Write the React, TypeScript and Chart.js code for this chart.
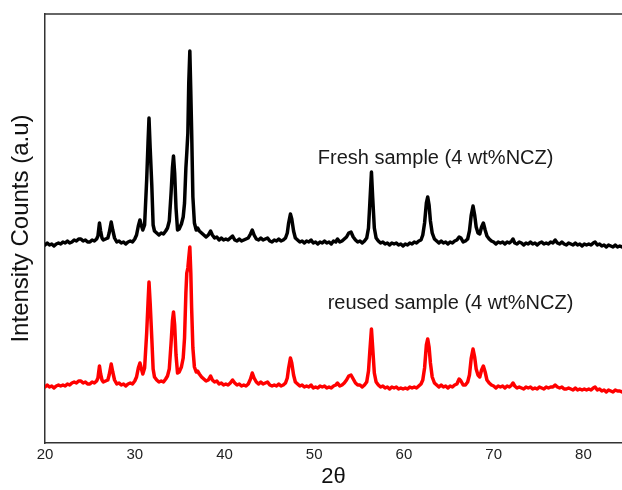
import React, { useEffect, useRef } from "react";
import { Chart, registerables } from "chart.js";

Chart.register(...registerables);

// ---- data: [2θ (deg), intensity (arbitrary counts)] ----
const xTickValues = [20, 30, 40, 50, 60, 70, 80];

const freshPattern: [number, number][] = [
  [20.0, 198], [20.25, 200], [20.5, 198], [20.75, 199], [21.0, 197], [21.25, 199], [21.5, 200], [21.75, 199],
  [22.0, 201], [22.25, 200], [22.5, 202], [22.75, 200], [23.0, 201], [23.25, 203], [23.5, 202], [23.75, 204],
  [24.0, 204], [24.25, 202], [24.5, 203], [24.75, 201], [25.0, 201], [25.25, 203], [25.5, 202], [25.75, 204],
  [25.9, 207], [26.07, 220], [26.2, 212], [26.35, 205], [26.5, 203], [26.75, 204], [27.0, 205], [27.15, 210],
  [27.38, 221], [27.55, 213], [27.75, 205], [28.0, 201], [28.25, 202], [28.5, 200], [28.75, 201], [29.0, 199],
  [29.25, 201], [29.5, 202], [29.75, 201], [30.0, 204], [30.2, 208], [30.4, 217], [30.58, 223], [30.72, 218],
  [30.9, 213], [31.1, 218], [31.33, 263], [31.48, 300], [31.59, 325], [31.72, 295], [31.9, 258], [32.05, 218],
  [32.2, 212], [32.45, 210], [32.7, 208], [32.95, 210], [33.2, 209], [33.45, 212], [33.65, 215], [33.85, 222],
  [34.05, 250], [34.2, 275], [34.32, 287], [34.45, 270], [34.6, 235], [34.77, 213], [34.95, 214], [35.2, 219],
  [35.4, 226], [35.55, 240], [35.7, 275], [35.8, 290], [35.92, 310], [36.02, 360], [36.14, 392], [36.25, 350],
  [36.34, 313], [36.48, 246], [36.65, 220], [36.85, 213], [37.0, 215], [37.2, 212], [37.45, 210], [37.7, 208],
  [37.95, 206], [38.2, 208], [38.45, 212], [38.65, 208], [38.9, 205], [39.15, 206], [39.4, 203], [39.65, 205],
  [39.9, 203], [40.15, 204], [40.4, 203], [40.65, 205], [40.9, 207], [41.15, 203], [41.4, 202], [41.65, 204],
  [41.9, 202], [42.15, 203], [42.4, 204], [42.65, 205], [42.9, 209], [43.1, 213], [43.3, 208], [43.55, 204],
  [43.8, 203], [44.05, 205], [44.3, 203], [44.55, 204], [44.8, 205], [45.05, 202], [45.3, 201], [45.55, 203],
  [45.8, 202], [46.05, 204], [46.3, 202], [46.55, 203], [46.8, 205], [47.0, 210], [47.15, 220], [47.35, 229],
  [47.5, 224], [47.7, 212], [47.9, 205], [48.15, 203], [48.4, 201], [48.65, 202], [48.9, 200], [49.15, 202],
  [49.4, 201], [49.65, 203], [49.9, 200], [50.15, 201], [50.4, 199], [50.65, 201], [50.9, 200], [51.15, 202],
  [51.4, 200], [51.65, 201], [51.9, 199], [52.15, 202], [52.4, 201], [52.6, 204], [52.85, 201], [53.1, 202],
  [53.35, 204], [53.6, 206], [53.85, 210], [54.1, 211], [54.35, 206], [54.6, 203], [54.85, 201], [55.1, 202],
  [55.35, 200], [55.6, 202], [55.85, 205], [56.05, 215], [56.2, 240], [56.38, 271], [56.52, 245], [56.7, 215],
  [56.9, 205], [57.15, 202], [57.4, 200], [57.65, 201], [57.9, 199], [58.15, 200], [58.4, 198], [58.65, 200],
  [58.9, 199], [59.15, 200], [59.4, 198], [59.65, 199], [59.9, 197], [60.15, 199], [60.4, 198], [60.65, 200],
  [60.9, 199], [61.15, 201], [61.4, 200], [61.65, 202], [61.9, 203], [62.1, 208], [62.3, 220], [62.5, 240],
  [62.65, 246], [62.8, 238], [62.95, 222], [63.15, 210], [63.4, 204], [63.65, 202], [63.9, 200], [64.15, 202],
  [64.4, 200], [64.65, 201], [64.9, 199], [65.15, 201], [65.4, 200], [65.65, 202], [65.9, 203], [66.15, 206],
  [66.35, 205], [66.6, 201], [66.85, 202], [67.1, 204], [67.3, 212], [67.5, 228], [67.7, 237], [67.88, 228],
  [68.05, 216], [68.25, 210], [68.45, 209], [68.65, 216], [68.85, 220], [69.05, 213], [69.25, 207], [69.5, 204],
  [69.75, 202], [70.0, 201], [70.25, 199], [70.5, 201], [70.75, 200], [71.0, 201], [71.25, 199], [71.5, 201],
  [71.75, 200], [72.0, 202], [72.15, 204], [72.35, 200], [72.6, 199], [72.85, 201], [73.1, 200], [73.35, 198],
  [73.6, 200], [73.85, 199], [74.1, 201], [74.35, 199], [74.6, 200], [74.85, 198], [75.1, 200], [75.35, 201],
  [75.6, 199], [75.85, 200], [76.1, 199], [76.35, 201], [76.6, 200], [76.85, 203], [77.1, 200], [77.35, 199],
  [77.6, 201], [77.85, 199], [78.1, 198], [78.35, 200], [78.6, 199], [78.85, 198], [79.1, 200], [79.35, 198],
  [79.6, 199], [79.85, 197], [80.1, 199], [80.35, 198], [80.6, 199], [80.85, 198], [81.1, 200], [81.3, 201],
  [81.55, 198], [81.8, 199], [82.05, 197], [82.3, 198], [82.55, 196], [82.8, 198], [83.05, 197], [83.3, 196],
  [83.55, 198], [83.8, 196], [84.05, 197], [84.3, 196],
];

const reusedPattern: [number, number][] = [
  [20.0, 56], [20.25, 58], [20.5, 56], [20.75, 57], [21.0, 55], [21.25, 57], [21.5, 58], [21.75, 57],
  [22.0, 58], [22.25, 57], [22.5, 59], [22.75, 58], [23.0, 60], [23.25, 61], [23.5, 60], [23.75, 62],
  [24.0, 62], [24.25, 60], [24.5, 61], [24.75, 59], [25.0, 59], [25.25, 61], [25.5, 60], [25.75, 62],
  [25.9, 65], [26.07, 77], [26.2, 69], [26.35, 63], [26.5, 61], [26.75, 62], [27.0, 63], [27.15, 68],
  [27.38, 79], [27.55, 71], [27.75, 63], [28.0, 59], [28.25, 60], [28.5, 58], [28.75, 59], [29.0, 57],
  [29.25, 59], [29.5, 60], [29.75, 59], [30.0, 62], [30.2, 66], [30.4, 75], [30.58, 80], [30.72, 75],
  [30.9, 69], [31.1, 75], [31.33, 110], [31.48, 140], [31.59, 161], [31.72, 140], [31.9, 105], [32.05, 74],
  [32.2, 66], [32.45, 63], [32.7, 61], [32.95, 62], [33.2, 61], [33.45, 64], [33.65, 67], [33.85, 74],
  [34.05, 100], [34.2, 122], [34.32, 131], [34.45, 118], [34.6, 88], [34.77, 70], [34.95, 71], [35.2, 76],
  [35.4, 85], [35.55, 105], [35.7, 150], [35.8, 170], [35.92, 175], [36.02, 185], [36.14, 196], [36.25, 170],
  [36.34, 135], [36.48, 95], [36.65, 76], [36.85, 71], [37.0, 72], [37.2, 69], [37.45, 66], [37.7, 64],
  [37.95, 62], [38.2, 63], [38.45, 67], [38.65, 63], [38.9, 61], [39.15, 62], [39.4, 59], [39.65, 60],
  [39.9, 58], [40.15, 59], [40.4, 58], [40.65, 60], [40.9, 63], [41.15, 60], [41.4, 58], [41.65, 59],
  [41.9, 57], [42.15, 58], [42.4, 57], [42.65, 59], [42.9, 64], [43.1, 70], [43.3, 65], [43.55, 61],
  [43.8, 59], [44.05, 61], [44.3, 59], [44.55, 60], [44.8, 61], [45.05, 58], [45.3, 57], [45.55, 58],
  [45.8, 57], [46.05, 59], [46.3, 57], [46.55, 58], [46.8, 60], [47.0, 65], [47.15, 75], [47.35, 85],
  [47.5, 80], [47.7, 68], [47.9, 61], [48.15, 59], [48.4, 57], [48.65, 58], [48.9, 56], [49.15, 57],
  [49.4, 56], [49.65, 58], [49.9, 55], [50.15, 56], [50.4, 55], [50.65, 57], [50.9, 56], [51.15, 57],
  [51.4, 55], [51.65, 56], [51.9, 55], [52.15, 57], [52.4, 58], [52.6, 60], [52.85, 57], [53.1, 58],
  [53.35, 60], [53.6, 63], [53.85, 67], [54.1, 68], [54.35, 64], [54.6, 60], [54.85, 58], [55.1, 58],
  [55.35, 56], [55.6, 58], [55.85, 61], [56.05, 72], [56.2, 92], [56.38, 114], [56.52, 95], [56.7, 70],
  [56.9, 61], [57.15, 58], [57.4, 56], [57.65, 57], [57.9, 55], [58.15, 56], [58.4, 54], [58.65, 56],
  [58.9, 55], [59.15, 56], [59.4, 54], [59.65, 55], [59.9, 54], [60.15, 55], [60.4, 54], [60.65, 56],
  [60.9, 55], [61.15, 56], [61.4, 55], [61.65, 57], [61.9, 59], [62.1, 63], [62.3, 75], [62.5, 98],
  [62.65, 104], [62.8, 96], [62.95, 80], [63.15, 66], [63.4, 60], [63.65, 58], [63.9, 56], [64.15, 58],
  [64.4, 56], [64.65, 57], [64.9, 55], [65.15, 57], [65.4, 56], [65.65, 58], [65.9, 59], [66.15, 64],
  [66.35, 62], [66.6, 58], [66.85, 58], [67.1, 61], [67.3, 68], [67.5, 85], [67.7, 94], [67.88, 86],
  [68.05, 74], [68.25, 68], [68.45, 66], [68.65, 73], [68.85, 77], [69.05, 71], [69.25, 63], [69.5, 60],
  [69.75, 58], [70.0, 57], [70.25, 55], [70.5, 57], [70.75, 56], [71.0, 57], [71.25, 55], [71.5, 57],
  [71.75, 56], [72.0, 58], [72.15, 60], [72.35, 57], [72.6, 55], [72.85, 56], [73.1, 55], [73.35, 54],
  [73.6, 56], [73.85, 55], [74.1, 56], [74.35, 54], [74.6, 55], [74.85, 54], [75.1, 56], [75.35, 55],
  [75.6, 54], [75.85, 56], [76.1, 55], [76.35, 56], [76.6, 56], [76.85, 58], [77.1, 56], [77.35, 55],
  [77.6, 56], [77.85, 54], [78.1, 54], [78.35, 55], [78.6, 54], [78.85, 53], [79.1, 55], [79.35, 53],
  [79.6, 54], [79.85, 53], [80.1, 54], [80.35, 53], [80.6, 54], [80.85, 53], [81.1, 55], [81.3, 56],
  [81.55, 53], [81.8, 54], [82.05, 52], [82.3, 53], [82.55, 51], [82.8, 53], [83.05, 52], [83.3, 51],
  [83.55, 53], [83.8, 52], [84.05, 52], [84.3, 51],
];

const seriesLabels = ["Fresh sample (4 wt%NCZ)", "reused sample (4 wt%NCZ)"];

// ---- annotation placement (data coordinates of text baseline start) ----
const labelAnchors = [
  { x: 50.4, y: 279 },
  { x: 51.5, y: 134 },
];

const FONT = "'Liberation Sans', Arial, sans-serif";

export default function App() {
  const ref = useRef<HTMLCanvasElement | null>(null);

  useEffect(() => {
    const canvas = ref.current;
    if (!canvas) return;

    const framePlugin = {
      id: "frameAndLabels",
      afterDatasetsDraw(chart: any) {
        const { ctx, chartArea, scales } = chart;
        ctx.save();
        ctx.strokeStyle = "#333";
        ctx.lineWidth = 1.5;
        ctx.beginPath();
        ctx.moveTo(chartArea.left, chartArea.top);
        ctx.lineTo(chartArea.right, chartArea.top);
        ctx.stroke();
        ctx.fillStyle = "#1a1a1a";
        ctx.font = `20px ${FONT}`;
        ctx.textAlign = "left";
        ctx.textBaseline = "alphabetic";
        seriesLabels.forEach((t, i) => {
          const px = scales.x.getPixelForValue(labelAnchors[i].x);
          const py = scales.y.getPixelForValue(labelAnchors[i].y);
          ctx.fillText(t, px, py);
        });
        ctx.restore();
      },
    };

    const lineStyle = {
      borderWidth: 3.5,
      pointRadius: 0,
      tension: 0,
      fill: false,
      borderJoinStyle: "round" as const,
      borderCapStyle: "round" as const,
    };

    const chart = new Chart(canvas, {
      type: "line",
      data: {
        datasets: [
          {
            label: seriesLabels[0],
            data: freshPattern.map(([x, y]) => ({ x, y })),
            borderColor: "#000000",
            ...lineStyle,
          },
          {
            label: seriesLabels[1],
            data: reusedPattern.map(([x, y]) => ({ x, y })),
            borderColor: "#ff0000",
            ...lineStyle,
          },
        ],
      },
      options: {
        animation: false,
        responsive: false,
        maintainAspectRatio: false,
        layout: { padding: { top: 14, right: 0, left: 0, bottom: 0 } },
        plugins: {
          legend: { display: false },
          tooltip: { enabled: false },
        },
        scales: {
          x: {
            type: "linear",
            min: 20,
            max: 84.3,
            afterFit: (s: any) => {
              s.height = 47;
            },
            afterBuildTicks: (s: any) => {
              s.ticks = xTickValues.map((v) => ({ value: v }));
            },
            grid: { display: false, drawTicks: false },
            border: { display: true, color: "#333", width: 1.5 },
            ticks: {
              color: "#222",
              font: { family: FONT, size: 15 },
              padding: 3,
              maxRotation: 0,
              autoSkip: false,
            },
            title: {
              display: true,
              text: "2θ",
              color: "#111",
              font: { family: FONT, size: 22 },
              padding: { top: 0, bottom: 0 },
            },
          },
          y: {
            type: "linear",
            min: 0,
            max: 429,
            afterFit: (s: any) => {
              s.width = 45;
            },
            grid: { display: false, drawTicks: false },
            border: { display: true, color: "#333", width: 1.5 },
            ticks: { display: false },
            title: {
              display: true,
              text: "Intensity Counts (a.u)",
              color: "#111",
              font: { family: FONT, size: 24 },
              padding: { top: 7, bottom: 0 },
            },
          },
        },
      },
      plugins: [framePlugin],
    });

    return () => chart.destroy();
  }, []);

  return (
    <div style={{ position: "absolute", left: 0, top: 0, width: 622, height: 490, background: "#fff" }}>
      <canvas ref={ref} width={622} height={490} style={{ display: "block" }} />
    </div>
  );
}
